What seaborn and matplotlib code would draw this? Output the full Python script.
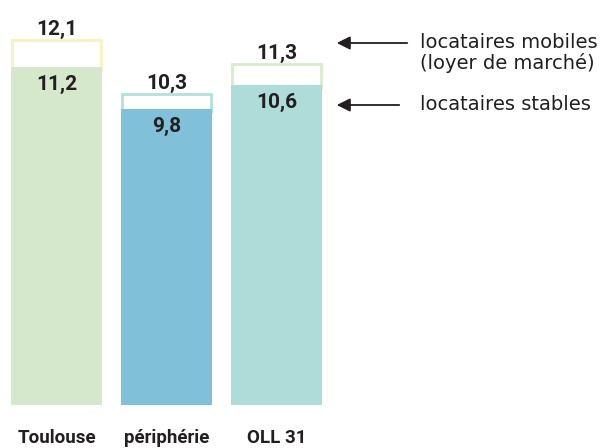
import matplotlib
matplotlib.use("Agg")
import matplotlib.pyplot as plt
import seaborn as sns

# Données : loyers (€/m²) des locataires stables et mobiles
categories = ["Toulouse", "périphérie", "OLL 31"]
stables = [11.2, 9.8, 10.6]
mobiles = [12.1, 10.3, 11.3]
fill_colors = ["#d5e8cc", "#80c0d9", "#aedcd9"]
edge_colors = ["#f5f3c1", "#b2e0dc", "#d7ebcd"]

TXT = "#231f20"

sns.set_theme(style="white")
plt.rcParams["font.family"] = ["Roboto", "DejaVu Sans"]

fig = plt.figure(figsize=(6.08, 4.48), dpi=100)
ax = fig.add_axes([0, 0, 1, 1])

# loyers de marché : barres blanches avec contour (seulement la partie haute)
sns.barplot(x=categories, y=mobiles, hue=categories, palette=["white"] * 3,
            width=0.81, legend=False, ax=ax, linewidth=2, saturation=1)
for i, patch in enumerate(ax.patches):
    patch.set_edgecolor(edge_colors[i])
    patch.set_y(stables[i] - 0.1)
    patch.set_height(mobiles[i] - stables[i] + 0.1)

# locataires stables par-dessus
sns.barplot(x=categories, y=stables, hue=categories, palette=fill_colors,
            width=0.827, legend=False, ax=ax, linewidth=0, saturation=1)

ax.set_xlim(-0.514, 5.014)
ax.set_ylim(-1.424, 13.41)
ax.axis("off")

for i in range(len(categories)):
    ax.text(i, mobiles[i] + 0.17, f"{mobiles[i]:.1f}".replace(".", ","),
            ha="center", va="baseline", fontsize=15, fontweight="bold", color=TXT)
    ax.text(i, stables[i] - 0.76, f"{stables[i]:.1f}".replace(".", ","),
            ha="center", va="baseline", fontsize=15, fontweight="bold", color=TXT)
    ax.text(i, -1.26, categories[i], ha="center", va="baseline",
            fontsize=13.5, fontweight="bold", color=TXT)

# annotations à droite
arrow = dict(arrowstyle="-|>", color=TXT, lw=1.3, mutation_scale=20)
ax.annotate("", xy=(334, 448 - 43), xytext=(410, 448 - 43),
            xycoords="figure pixels", textcoords="figure pixels", arrowprops=arrow)
ax.annotate("", xy=(334, 448 - 105), xytext=(402, 448 - 105),
            xycoords="figure pixels", textcoords="figure pixels", arrowprops=arrow)
fig.text(420 / 608, 1 - 53 / 448, "locataires mobiles\n(loyer de marché)",
         ha="left", va="center", fontsize=14, color=TXT,
         family="DejaVu Sans", linespacing=1.05)
fig.text(420 / 608, 1 - 104 / 448, "locataires stables",
         ha="left", va="center", fontsize=14, color=TXT, family="DejaVu Sans")

fig.savefig("out.png", dpi=100)
